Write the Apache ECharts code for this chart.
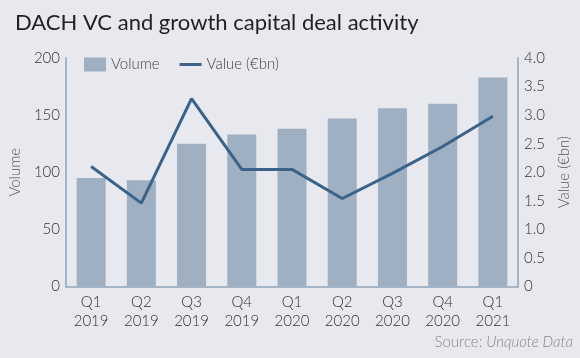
<!DOCTYPE html>
<html>
<head>
<meta charset="utf-8">
<script src="https://cdn.jsdelivr.net/npm/echarts@6/dist/echarts.min.js"></script>
<style>
html,body{margin:0;padding:0;background:#e8e9ee;}
#c{width:580px;height:358px;}
</style>
</head>
<body>
<div id="c"></div>
<script>
const categories = ['Q1\n2019','Q2\n2019','Q3\n2019','Q4\n2019','Q1\n2020','Q2\n2020','Q3\n2020','Q4\n2020','Q1\n2021'];
const volume = [95, 93, 125, 133, 138, 147, 156, 160, 183];
const value = [2.10, 1.46, 3.29, 2.05, 2.05, 1.54, 1.98, 2.45, 2.98];
const leftTicks = [0, 50, 100, 150, 200];
const rightTicks = [0, 0.5, 1.0, 1.5, 2.0, 2.5, 3.0, 3.5, 4.0];

const FONT = 'Lato';
const W = 300;
const chart = echarts.init(document.getElementById('c'), null, {renderer:'canvas'});
chart.setOption({
  backgroundColor: '#e8e9ee',
  animation: false,
  title: {
    text: 'DACH VC and growth capital deal activity',
    left: 10, top: 7,
    textStyle: {fontFamily: FONT, fontSize: 22, fontWeight: 'normal', color: '#222'}
  },
  legend: {
    left: 79, top: 52,
    itemWidth: 22, itemHeight: 14, itemGap: 20,
    textStyle: {fontFamily: FONT, fontSize: 15, fontWeight: W, color: '#444'},
    data: [{name:'Volume', icon:'rect'}, {name:'Value (€bn)', icon:'path://M0,0H22V3H0Z', itemStyle:{color:'#3b6288'}}]
  },
  grid: {left: 59, right: 56, top: 58, bottom: 71.5},
  xAxis: {
    type: 'category',
    data: categories,
    axisLine: {show: true, lineStyle: {color: '#a3b5c6', width: 2}},
    axisTick: {show: false},
    axisLabel: {fontFamily: FONT, fontSize: 15, fontWeight: W, color: '#333', lineHeight: 19, margin: 6}
  },
  yAxis: [{
    type: 'value', min: 0, max: 200, interval: 50,
    name: 'Volume', nameLocation: 'middle', nameGap: 40,
    nameTextStyle: {fontFamily: FONT, fontSize: 15, fontWeight: W, color: '#555'},
    axisLine: {show: true, lineStyle: {color: '#a3b5c6', width: 2}},
    axisTick: {show: false},
    splitLine: {show: false},
    axisLabel: {fontFamily: FONT, fontSize: 15, fontWeight: W, color: '#333', margin: 6,
      formatter: v => leftTicks.includes(v) ? String(v) : ''}
  },{
    type: 'value', min: 0, max: 4, interval: 0.5,
    name: 'Value (€bn)', nameLocation: 'middle', nameGap: 39, nameRotate: 90,
    nameTextStyle: {fontFamily: FONT, fontSize: 15, fontWeight: W, color: '#555'},
    axisLine: {show: true, lineStyle: {color: '#a3b5c6', width: 2}},
    axisTick: {show: false},
    splitLine: {show: false},
    axisLabel: {fontFamily: FONT, fontSize: 15, fontWeight: W, color: '#333', margin: 6,
      formatter: v => { const t = rightTicks.find(r => Math.abs(r - v) < 1e-9); return t === undefined ? '' : (t === 0 ? '0' : t.toFixed(1)); }}
  }],
  series: [{
    name: 'Volume', type: 'bar', yAxisIndex: 0,
    data: volume, barWidth: 29,
    itemStyle: {color: '#9fb0c2'}
  },{
    name: 'Value (€bn)', type: 'line', yAxisIndex: 1,
    data: value, symbol: 'none',
    lineStyle: {color: '#3b6288', width: 3},
    itemStyle: {color: '#3b6288'}
  }],
  graphic: [{
    type: 'text', right: 7, top: 335,
    style: {
      text: '{a|Source: }{b|Unquote Data}',
      rich: {
        a: {fontFamily: FONT, fontSize: 15, fontWeight: W, fill: '#888', fontStyle: 'normal'},
        b: {fontFamily: FONT, fontSize: 15, fontWeight: W, fill: '#888', fontStyle: 'italic'}
      }
    }
  }]
});
</script>
</body>
</html>
